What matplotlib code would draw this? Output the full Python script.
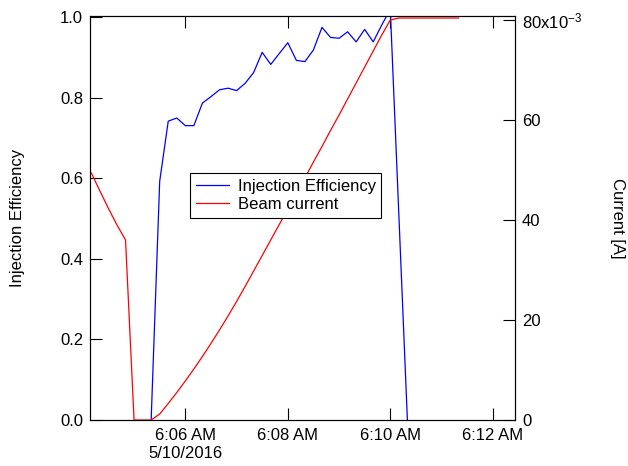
import matplotlib
matplotlib.use("Agg")
import matplotlib.pyplot as plt
import pandas as pd

plt.rcParams['font.family'] = ['Liberation Sans', 'DejaVu Sans']
plt.rcParams['mathtext.default'] = 'regular'

# ---- data (10 s samples) ----
eff_start = "2016-05-10 06:05:20"
injection_efficiency = [
    0.0, 0.593, 0.742, 0.750, 0.731, 0.731, 0.787, 0.803, 0.820, 0.824,
    0.818, 0.836, 0.863, 0.913, 0.883, 0.910, 0.937, 0.893, 0.890, 0.919,
    0.975, 0.950, 0.948, 0.964, 0.939, 0.970, 0.939, 0.981, 1.020, 0.510,
    0.0,
]

cur_start = "2016-05-10 06:04:10"
beam_current = [
    0.0494, 0.0458, 0.0423, 0.0390, 0.0360, 0.0, 0.0, 0.0, 0.0012, 0.0033,
    0.0055, 0.0078, 0.0102, 0.0127, 0.0153, 0.0180, 0.0208, 0.0237, 0.0267,
    0.0298, 0.0329, 0.0360, 0.0391, 0.0422, 0.0453, 0.0484, 0.0516, 0.0547,
    0.0579, 0.0610, 0.0642, 0.0674, 0.0706, 0.0738, 0.0770, 0.0800, 0.0804,
    0.0804, 0.0804, 0.0804, 0.0804, 0.0804, 0.0804, 0.0804,
]

x_tick_times = ["2016-05-10 06:06", "2016-05-10 06:08", "2016-05-10 06:10", "2016-05-10 06:12"]
x_tick_labels = ["6:06 AM\n5/10/2016", "6:08 AM", "6:10 AM", "6:12 AM"]
left_ticks = [0.0, 0.2, 0.4, 0.6, 0.8, 1.0]
left_tick_labels = ["0.0", "0.2", "0.4", "0.6", "0.8", "1.0"]
right_ticks = [0.0, 0.02, 0.04, 0.06, 0.08]
right_tick_labels = ["0", "20", "40", "60", "80x10$^{-3}$"]

eff_times = pd.date_range(eff_start, periods=len(injection_efficiency), freq="10s")
cur_times = pd.date_range(cur_start, periods=len(beam_current), freq="10s")

W, H = 628, 466
fig = plt.figure(figsize=(W / 100, H / 100), dpi=100)
ax = fig.add_axes([90 / W, 1 - 420 / H, 425 / W, (420 - 15.5) / H])
ax2 = ax.twinx()

l1, = ax.plot(eff_times, injection_efficiency, color='#0000ff', lw=0.9,
              label='Injection Efficiency')
l2, = ax2.plot(cur_times, beam_current, color='#ff0000', lw=0.9,
               label='Beam current')

ax.set_xlim(pd.Timestamp("2016-05-10 06:04:08.4"), pd.Timestamp("2016-05-10 06:12:26"))
ax.set_ylim(0, 1.0045)
ax2.set_ylim(0, 0.0809)

ax.set_xticks(pd.to_datetime(x_tick_times))
ax.set_xticklabels(x_tick_labels)
ax.set_yticks(left_ticks)
ax.set_yticklabels(left_tick_labels)
ax2.set_yticks(right_ticks)
ax2.set_yticklabels(right_tick_labels)
ax.minorticks_off()
ax2.minorticks_off()

tl = 8.6
ax.tick_params(axis='y', direction='in', length=tl, width=0.8, pad=5,
               labelsize=12, left=True, right=False, colors='black')
ax.tick_params(axis='x', direction='in', length=tl, width=0.8, pad=6,
               labelsize=12, top=True, bottom=True)
ax2.tick_params(axis='y', direction='in', length=tl, width=0.8, pad=5,
                labelsize=12)
for a in (ax, ax2):
    for s in a.spines.values():
        s.set_linewidth(0.8)
        s.set_color('black')

fig.text(18 / W, 1 - 218 / H, 'Injection Efficiency', rotation=90,
         ha='center', va='center', fontsize=12)
fig.text(617 / W, 1 - 218 / H, 'Current [A]', rotation=-90,
         ha='center', va='center', fontsize=12)

leg = fig.legend([l1, l2], ['Injection Efficiency', 'Beam current'],
                 loc='upper left', bbox_to_anchor=(190 / W, 1 - 173 / H),
                 bbox_transform=fig.transFigure, frameon=True, fancybox=False,
                 edgecolor='black', framealpha=1, borderpad=0.35,
                 labelspacing=0.2, handlelength=2.0, handletextpad=0.5,
                 fontsize=12, borderaxespad=0)
leg.get_frame().set_linewidth(0.8)

fig.savefig("out.png", dpi=100)
